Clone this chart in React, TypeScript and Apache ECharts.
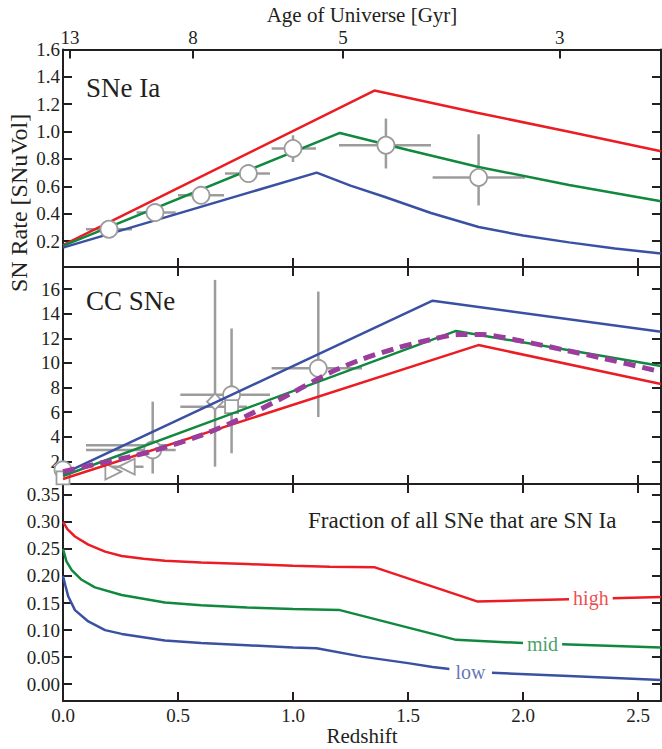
import React, { useEffect, useRef } from 'react';
import * as echarts from 'echarts';

const FONT = 'Liberation Serif';
const RED = '#ec1c24';
const GREEN = '#10893e';
const BLUE = '#3a51a3';
const PURPLE = '#9a3d9c';
const GRAY = '#9c9c9c';
const INK = '#231f20';

// ---- shared x axis (redshift) and top age axis ----
const zMin = 0;
const zMax = 2.6;
const zTicks = [0, 0.5, 1.0, 1.5, 2.0, 2.5];
const ageTicks = [13, 8, 5, 3];
const ageTickZ = [0.03, 0.565, 1.217, 2.16];

// ---- panel 1: SNe Ia rate ----
const iaYTicks = [0.2, 0.4, 0.6, 0.8, 1.0, 1.2, 1.4, 1.6];
const iaHighZ = [0, 1.354, 1.8, 2.2, 2.6];
const iaHighV = [0.17, 1.3, 1.138, 0.999, 0.856];
const iaMidZ = [0, 1.204, 1.5, 1.807, 2.2, 2.6];
const iaMidV = [0.165, 0.99, 0.865, 0.741, 0.61, 0.49];
const iaLowZ = [0, 1.103, 1.25, 1.4, 1.6, 1.807, 2.0, 2.2, 2.4, 2.6];
const iaLowV = [0.152, 0.7, 0.605, 0.522, 0.405, 0.302, 0.24, 0.19, 0.145, 0.108];
const iaObsZ = [0.2, 0.4, 0.6, 0.806, 1.0, 1.404, 1.807];
const iaObsV = [0.286, 0.408, 0.534, 0.693, 0.876, 0.9, 0.664];
const iaObsZlo = [0.1, 0.32, 0.5, 0.704, 0.907, 1.2, 1.607];
const iaObsZhi = [0.3, 0.49, 0.7, 0.9, 1.1, 1.6, 2.009];
const iaObsVlo = [0.286, 0.408, 0.534, 0.693, 0.778, 0.73, 0.46];
const iaObsVhi = [0.286, 0.408, 0.534, 0.693, 0.973, 1.095, 0.98];

// ---- panel 2: CC SNe rate ----
const ccYTicks = [2, 4, 6, 8, 10, 12, 14, 16];
const ccBlueZ = [0, 1.607, 2.6];
const ccBlueV = [0.97, 15.06, 12.54];
const ccGreenZ = [0, 1.709, 2.6];
const ccGreenV = [0.8, 12.6, 9.75];
const ccRedZ = [0, 1.806, 2.6];
const ccRedV = [0.56, 11.45, 8.28];
const ccFitZ = [0, 0.16, 0.3, 0.41, 0.6, 0.8, 1.0, 1.16, 1.3, 1.45, 1.6, 1.72, 1.82, 2.0, 2.18, 2.35, 2.6];
const ccFitV = [1.15, 1.84, 2.4, 2.95, 4.1, 5.7, 7.6, 9.2, 10.3, 11.2, 11.9, 12.3, 12.3, 11.75, 11.05, 10.37, 9.28];
const ccObsKind = ['circle', 'rect', 'triR', 'triL', 'none', 'circle', 'diamond', 'circle', 'rect', 'circle'];
const ccObsZ = [0.0, 0.0, 0.219, 0.277, 0.3, 0.39, 0.661, 0.733, 0.733, 1.11];
const ccObsV = [1.3, 0.65, 1.16, 1.56, 3.3, 2.92, 6.85, 7.4, 6.44, 9.56];
const ccObsZlo = [0.0, 0.0, 0.219, 0.18, 0.1, 0.1, 0.661, 0.51, 0.51, 0.907];
const ccObsZhi = [0.0, 0.0, 0.219, 0.35, 0.45, 0.49, 0.661, 0.9, 0.8, 1.3];
const ccObsVlo = [1.3, 0.65, 1.16, 1.56, 3.3, 1.0, 1.56, 2.65, 6.44, 5.6];
const ccObsVhi = [1.3, 0.65, 1.16, 1.56, 3.3, 6.85, 16.75, 12.8, 6.44, 15.8];

// ---- panel 3: fraction of SNe that are Ia ----
const fracYTicks = [0, 0.05, 0.1, 0.15, 0.2, 0.25, 0.3, 0.35];
const fracHighZ = [0, 0.02, 0.052, 0.11, 0.183, 0.255, 0.35, 0.443, 0.6, 0.8, 1.0, 1.16, 1.356, 1.8, 2.2, 2.39, 2.6];
const fracHighV = [0.3, 0.286, 0.273, 0.258, 0.245, 0.237, 0.232, 0.228, 0.225, 0.222, 0.219, 0.217, 0.216, 0.153, 0.157, 0.159, 0.161];
const fracMidZ = [0, 0.015, 0.038, 0.081, 0.139, 0.255, 0.443, 0.6, 0.8, 1.0, 1.204, 1.709, 2.0, 2.17, 2.6];
const fracMidV = [0.25, 0.227, 0.211, 0.193, 0.179, 0.165, 0.151, 0.146, 0.142, 0.139, 0.137, 0.082, 0.076, 0.074, 0.068];
const fracLowZ = [0, 0.01, 0.023, 0.052, 0.11, 0.183, 0.255, 0.443, 0.6, 0.8, 1.0, 1.103, 1.3, 1.5, 1.607, 1.68, 1.865, 2.2, 2.6];
const fracLowV = [0.2, 0.183, 0.162, 0.137, 0.116, 0.1, 0.093, 0.081, 0.076, 0.072, 0.068, 0.0666, 0.051, 0.039, 0.032, 0.028, 0.021, 0.015, 0.008];
const fracLabels = ['high', 'mid', 'low'];
const fracLabelZ = [2.295, 2.085, 1.772];
const fracLabelV = [0.159, 0.075, 0.023];
const fracGaps = [[2.2, 2.39], [2.0, 2.17], [1.68, 1.865]];

const pairs = (zs: number[], vs: number[]) => zs.map((z, i) => [z, vs[i]]);

const symbolStyle: Record<string, any> = {
  circle: { symbol: 'circle', size: 17, rotate: 0 },
  rect: { symbol: 'rect', size: 13, rotate: 0 },
  diamond: { symbol: 'diamond', size: 16, rotate: 0 },
  triR: { symbol: 'triangle', size: 16, rotate: -90 },
  triL: { symbol: 'triangle', size: 16, rotate: 90 },
  none: { symbol: 'none', size: 0, rotate: 0 },
};

function renderErr(_params: any, api: any) {
  const v = api.value(1);
  const z = api.value(0);
  const zl = api.value(2), zh = api.value(3), vl = api.value(4), vh = api.value(5);
  const style = { stroke: GRAY, lineWidth: 2.5 };
  const children: any[] = [];
  if (zh > zl) {
    const a = api.coord([zl, v]);
    const b = api.coord([zh, v]);
    children.push({ type: 'line', shape: { x1: a[0], y1: a[1], x2: b[0], y2: b[1] }, style });
  }
  if (vh > vl) {
    const a = api.coord([z, vl]);
    const b = api.coord([z, vh]);
    children.push({ type: 'line', shape: { x1: a[0], y1: a[1], x2: b[0], y2: b[1] }, style });
  }
  return { type: 'group', children };
}

const frameLine = { show: true, onZero: false, lineStyle: { color: INK, width: 2 } };
const inTick = { show: true, inside: true, length: 9, lineStyle: { color: INK, width: 2 } };
const labelText = { color: INK, fontSize: 19, fontFamily: FONT };

function xAx(gridIndex: number, position: string, extra: any = {}) {
  return {
    gridIndex, type: 'value', position, min: zMin, max: zMax,
    axisLine: frameLine,
    axisTick: { ...inTick, customValues: zTicks },
    axisLabel: { show: false },
    splitLine: { show: false },
    ...extra,
  };
}

function yAx(gridIndex: number, position: string, min: number, max: number, ticks: number[], digits: number, showLabel: boolean) {
  return {
    gridIndex, type: 'value', position, min, max,
    axisLine: frameLine,
    axisTick: { ...inTick, customValues: ticks },
    axisLabel: showLabel
      ? { show: true, customValues: ticks, margin: 3, formatter: (v: number) => v.toFixed(digits), ...labelText }
      : { show: false },
    splitLine: { show: false },
  };
}

function lineSeries(xi: number, data: any[], color: string, z: number, extra: any = {}) {
  return {
    type: 'line', xAxisIndex: xi, yAxisIndex: xi, data, symbol: 'none', showSymbol: false,
    lineStyle: { color, width: 2.5 }, itemStyle: { color }, z, silent: true, ...extra,
  };
}

function splitGap(zs: number[], vs: number[], gap: number[]) {
  const all = pairs(zs, vs);
  return [all.filter((p) => p[0] <= gap[0]), all.filter((p) => p[0] >= gap[1])];
}

export default function App() {
  const ref = useRef<HTMLDivElement>(null);
  useEffect(() => {
    if (!ref.current) return;
    const chart = echarts.init(ref.current, undefined, { renderer: 'svg' });
    const fracSeries: any[] = [];
    const fracSets = [
      [fracHighZ, fracHighV, RED],
      [fracMidZ, fracMidV, GREEN],
      [fracLowZ, fracLowV, BLUE],
    ] as any[];
    fracSets.forEach(([zs, vs, color], i) => {
      const [a, b] = splitGap(zs, vs, fracGaps[i]);
      fracSeries.push(lineSeries(4, a, color, 3));
      fracSeries.push(lineSeries(4, b, color, 3));
      fracSeries.push({
        type: 'scatter', xAxisIndex: 4, yAxisIndex: 4, symbolSize: 1,
        itemStyle: { color: 'rgba(0,0,0,0)' },
        data: [{ value: [fracLabelZ[i], fracLabelV[i]], name: fracLabels[i] }],
        label: { show: true, position: 'inside', formatter: '{b}', color, fontSize: 20, fontFamily: FONT },
        z: 4, silent: true,
      });
    });

    chart.setOption({
      animation: false,
      backgroundColor: '#fff',
      textStyle: { fontFamily: FONT },
      grid: [
        { left: 63, top: 49.5, width: 598, height: 217.5 },
        { left: 63, top: 267, width: 598, height: 217 },
        { left: 63, top: 484, width: 598, height: 217 },
      ],
      xAxis: [
        xAx(0, 'bottom'),
        xAx(0, 'top', {
          axisTick: { ...inTick, customValues: ageTickZ },
          axisLabel: {
            show: true, customValues: ageTickZ, margin: 3, ...labelText,
            formatter: (v: number) => {
              const i = ageTickZ.findIndex((z) => Math.abs(z - v) < 1e-6);
              return i >= 0 ? String(ageTicks[i]) : '';
            },
          },
          name: 'Age of Universe [Gyr]', nameLocation: 'middle', nameGap: 24,
          nameTextStyle: { color: INK, fontSize: 21, fontFamily: FONT },
        }),
        xAx(1, 'bottom'),
        xAx(1, 'top'),
        xAx(2, 'top'),
        xAx(2, 'bottom', {
          axisLabel: { show: true, customValues: zTicks, margin: 5, formatter: (v: number) => v.toFixed(1), ...labelText },
          name: 'Redshift', nameLocation: 'middle', nameGap: 24,
          nameTextStyle: { color: INK, fontSize: 21, fontFamily: FONT },
        }),
      ],
      yAxis: [
        yAx(0, 'left', 0.01, 1.6, iaYTicks, 1, true),
        yAx(0, 'right', 0.01, 1.6, iaYTicks, 1, false),
        yAx(1, 'left', 0.15, 17.8, ccYTicks, 0, true),
        yAx(1, 'right', 0.15, 17.8, ccYTicks, 0, false),
        yAx(2, 'left', -0.031, 0.37, fracYTicks, 2, true),
        yAx(2, 'right', -0.031, 0.37, fracYTicks, 2, false),
      ],
      graphic: [
        {
          type: 'text', x: 19, y: 203, rotation: Math.PI / 2,
          style: { text: 'SN Rate [SNuVol]', fill: INK, fontSize: 24, fontFamily: FONT, textAlign: 'center', textVerticalAlign: 'middle' },
        },
        { type: 'text', x: 86, y: 88, style: { text: 'SNe Ia', fill: INK, fontSize: 27, fontFamily: FONT, textVerticalAlign: 'middle' } },
        { type: 'text', x: 86, y: 301, style: { text: 'CC SNe', fill: INK, fontSize: 27, fontFamily: FONT, textVerticalAlign: 'middle' } },
        { type: 'text', x: 308, y: 520, style: { text: 'Fraction of all SNe that are SN Ia', fill: INK, fontSize: 23, fontFamily: FONT, textVerticalAlign: 'middle' } },
      ],
      series: [
        // panel 1
        {
          type: 'custom', xAxisIndex: 0, yAxisIndex: 0, renderItem: renderErr, z: 1, silent: true,
          encode: { x: 0, y: 1 },
          data: iaObsZ.map((z, i) => [z, iaObsV[i], iaObsZlo[i], iaObsZhi[i], iaObsVlo[i], iaObsVhi[i]]),
        },
        lineSeries(0, pairs(iaHighZ, iaHighV), RED, 3),
        lineSeries(0, pairs(iaMidZ, iaMidV), GREEN, 3),
        lineSeries(0, pairs(iaLowZ, iaLowV), BLUE, 3),
        {
          type: 'scatter', xAxisIndex: 0, yAxisIndex: 0, data: pairs(iaObsZ, iaObsV),
          symbol: 'circle', symbolSize: 17, z: 5, silent: true,
          itemStyle: { color: '#fff', borderColor: GRAY, borderWidth: 1.8, opacity: 1 },
        },
        // panel 2
        {
          type: 'custom', xAxisIndex: 2, yAxisIndex: 2, renderItem: renderErr, z: 1, silent: true,
          encode: { x: 0, y: 1 },
          data: ccObsZ.map((z, i) => [z, ccObsV[i], ccObsZlo[i], ccObsZhi[i], ccObsVlo[i], ccObsVhi[i]]),
        },
        {
          type: 'scatter', xAxisIndex: 2, yAxisIndex: 2, z: 2, silent: true,
          itemStyle: { color: '#fff', borderColor: GRAY, borderWidth: 1.8, opacity: 1 },
          data: ccObsZ.map((z, i) => {
            const s = symbolStyle[ccObsKind[i]];
            return { value: [z, ccObsV[i]], symbol: s.symbol, symbolSize: s.size, symbolRotate: s.rotate };
          }),
        },
        lineSeries(2, pairs(ccRedZ, ccRedV), RED, 3),
        lineSeries(2, pairs(ccGreenZ, ccGreenV), GREEN, 3),
        lineSeries(2, pairs(ccBlueZ, ccBlueV), BLUE, 3),
        lineSeries(2, pairs(ccFitZ, ccFitV), PURPLE, 4, {
          smooth: 0.3,
          lineStyle: { color: PURPLE, width: 5, type: [12, 7] },
        }),
        // panel 3
        ...fracSeries,
      ],
    });
    return () => chart.dispose();
  }, []);
  return <div ref={ref} style={{ position: 'fixed', left: 0, top: 0, width: 662, height: 749, background: '#fff' }} />;
}
